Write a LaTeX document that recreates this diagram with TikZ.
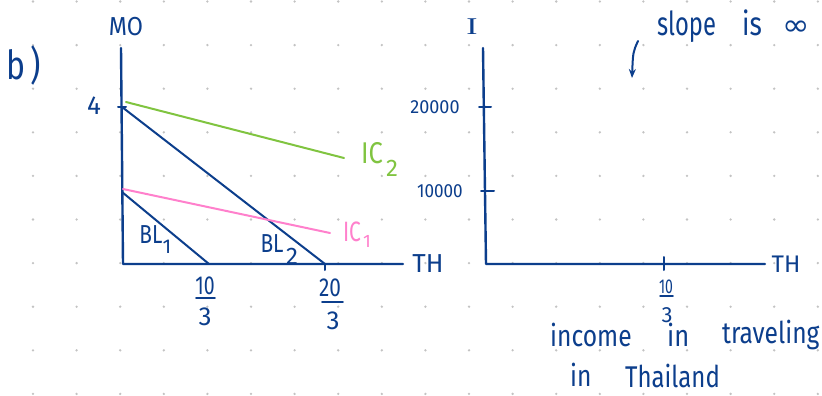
\documentclass[tikz,border=0pt]{standalone}
\usepackage{fontspec}
\setmainfont{Fira Sans}
\newfontfamily\serifI{Liberation Serif}
\newfontfamily\symfont{DejaVu Sans}
\usetikzlibrary{arrows.meta}
\definecolor{ink}{RGB}{12,62,140}
\definecolor{icgreen}{RGB}{128,196,64}
\definecolor{icpink}{RGB}{255,128,204}
\definecolor{dotgray}{RGB}{195,195,195}
\begin{document}
\begin{tikzpicture}[x=1pt,y=-1pt,line cap=round,line join=round,
  axis/.style={draw=ink,line width=2.4pt},
  budget/.style={draw=ink,line width=2pt},
  tickmark/.style={draw=ink,line width=2pt},
  hand/.style={text=ink,inner sep=0pt,font=\fontsize{26}{26}\selectfont},
  small/.style={text=ink,inner sep=0pt,font=\fontsize{19}{19}\selectfont},
  words/.style={text=ink,inner sep=0pt,font=\fontsize{30}{30}\selectfont,anchor=base west}]
\useasboundingbox[fill=white] (0,0) rectangle (822,396);
% dot grid
\foreach \i in {0,...,18}{\foreach \j in {0,...,9}{
  \fill[dotgray] ({33+43.6*\i},{1.5+43.6*\j}) circle (1.3pt);}}
% ---------- left graph ----------
\node[hand,font=\fontsize{40}{40}\selectfont,xscale=0.8] (lb) at (24,66) {b\,)};
\node[hand,xscale=0.9] (lmo) at (126,27) {MO};
\coordinate (ytop) at (121,48);
\coordinate (O1) at (123,264);
\coordinate (xend) at (403,264);
\draw[axis] (ytop) -- (O1) -- (xend);
\node[hand] (lth) at (428,264) {TH};
\coordinate (A4) at (122,107);
\coordinate (B20) at (325,264);
\coordinate (A1) at (122,192);
\coordinate (B10) at (209,264);
\draw[tickmark] (A4) ++(-4,0) -- ++(8,0);
\draw[tickmark] (B20) -- ++(0,6);
\node[hand] (l4) at (94,106) {4};
\draw[budget] (A4) -- (B20);
\draw[budget] (A1) -- (B10);
\coordinate (g1) at (126,102);
\coordinate (g2) at (344,158);
\draw[icgreen,line width=2pt] (g1) -- (g2);
\coordinate (p1) at (123,189);
\coordinate (p2) at (330,233);
\draw[icpink,line width=2pt] (p1) -- (p2);
\node[hand,text=icgreen,font=\fontsize{30}{30}\selectfont,xscale=0.85] (ic2) at (372,153) {IC};
\node[hand,text=icgreen,font=\fontsize{24}{24}\selectfont] (ic2s) at (392,168) {2};
\node[hand,text=icpink,font=\fontsize{28}{28}\selectfont,xscale=0.75] (ic1) at (352,232) {IC};
\node[hand,text=icpink,font=\fontsize{18}{18}\selectfont] (ic1s) at (367,241) {1};
\node[hand,xscale=0.8] (bl1) at (151,235) {BL};
\node[hand,font=\fontsize{20}{20}\selectfont] (bl1s) at (167,247) {1};
\node[hand,xscale=0.8] (bl2) at (272,244) {BL};
\node[hand,font=\fontsize{24}{24}\selectfont] (bl2s) at (292,256) {2};
% fractions
\node[hand,xscale=0.75] (f1n) at (205,286) {10};
\node[hand] (f1d) at (205,317) {3};
\draw[ink,line width=1.8pt] (196,298) -- (215,298);
\node[hand,xscale=0.8] (f2n) at (330,288) {20};
\node[hand] (f2d) at (333,321) {3};
\draw[ink,line width=1.8pt] (322,302) -- (343,302);
% ---------- right graph ----------
\node[text=ink,inner sep=0pt,font=\serifI\fontsize{24}{24}\selectfont,xscale=1.4] (ri) at (472,27) {I};
\coordinate (Itop) at (483,48);
\coordinate (O2) at (486,264);
\coordinate (xend2) at (765,264);
\draw[axis] (Itop) -- (O2) -- (xend2);
\node[hand,font=\fontsize{24}{24}\selectfont] (rth) at (786,264) {TH};
\coordinate (t20) at (485,107);
\coordinate (t10) at (487,191);
\coordinate (t103) at (664,264);
\draw[tickmark] (t20) ++(-6,0) -- ++(12,0);
\draw[tickmark] (t10) ++(-6,0) -- ++(13,0);
\draw[tickmark] (t103) ++(0,-7) -- ++(0,13);
\node[small,xscale=0.95] (l20k) at (435,107) {20000};
\node[small,xscale=0.9] (l10k) at (440,191) {10000};
\node[hand,font=\fontsize{20}{20}\selectfont,xscale=0.7] (f3n) at (666,287) {10};
\node[hand,font=\fontsize{22}{22}\selectfont] (f3d) at (667,315) {3};
\draw[ink,line width=1.5pt] (660,296) -- (673,296);
% annotation
\node[words,font=\fontsize{33}{33}\selectfont,xscale=0.72] (wslope) at (657,36) {slope};
\node[words,font=\fontsize{33}{33}\selectfont,xscale=0.8] (wis) at (742,36) {is};
\node[text=ink,inner sep=0pt,font=\symfont\fontsize{30}{30}\selectfont,xscale=1.1] (winf) at (796,28) {∞};
\coordinate (ar1) at (638,41);
\coordinate (ar2) at (632,78);
\draw[ink,line width=2pt,-{Stealth[length=9pt,width=7pt]}] (ar1) .. controls (633,52) .. (ar2);
\node[words,xscale=0.82] (wincome) at (550,346) {income};
\node[words,xscale=0.85] (win1) at (667,346) {in};
\node[words,xscale=0.82] (wtrav) at (722,343) {traveling};
\node[words,xscale=0.82] (win2) at (570,386) {in};
\node[words,xscale=0.8] (wthai) at (625,387) {Thailand};
\end{tikzpicture}
\end{document}
